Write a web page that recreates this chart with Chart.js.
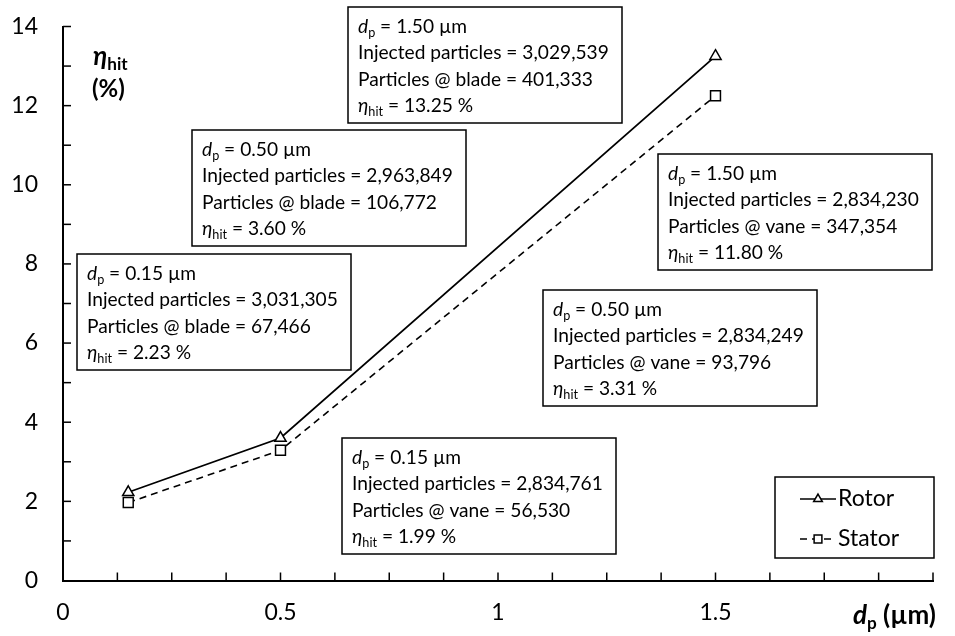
<!DOCTYPE html>
<html>
<head>
<meta charset="utf-8">
<script src="https://cdn.jsdelivr.net/npm/chart.js@4.4.1/dist/chart.umd.min.js"></script>
<style>
  html, body { margin: 0; padding: 0; background: #fff; }
</style>
</head>
<body>
<canvas id="hitChart" width="955" height="636"></canvas>
<script>
// particle diameters (um)
const sizes = [0.15, 0.5, 1.5];
// plotted hit efficiency (%)
const rotorHit = [2.23, 3.60, 13.25];
const statorHit = [1.97, 3.29, 12.25];

// numbers written in the boxes
const sizeText = ['0.15', '0.50', '1.50'];
const rotorInjected = ['3,031,305', '2,963,849', '3,029,539'];
const rotorAtBlade = ['67,466', '106,772', '401,333'];
const rotorHitText = ['2.23', '3.60', '13.25'];
const statorInjected = ['2,834,761', '2,834,249', '2,834,230'];
const statorAtVane = ['56,530', '93,796', '347,354'];
const statorHitText = ['1.99', '3.31', '11.80'];

const seriesNames = ['Rotor', 'Stator'];
const xTickLabels = ['0', '0.5', '1', '1.5'];
const yTickStep = 2;

const FONT = 'Lato, "Open Sans", sans-serif';

// box positions (left, top) in px
const rotorBoxPos = [[77, 254], [192, 130], [348, 7]];
const statorBoxPos = [[342, 438], [543, 290], [658, 154]];

function boxLines(d, inj, label, at, hit) {
  return [
    [{ t: 'd', i: true }, { t: 'p', sub: true }, { t: ' = ' + d + ' µm' }],
    [{ t: 'Injected particles = ' + inj }],
    [{ t: 'Particles @ ' + label + ' = ' + at }],
    [{ t: 'η', i: true }, { t: 'hit', sub: true }, { t: ' = ' + hit + ' %' }]
  ];
}

function drawRich(ctx, segs, x, y, size, weight, measureOnly) {
  let cx = x;
  for (const s of segs) {
    const fs = s.sub ? size * 0.66 : size;
    ctx.font = (s.i ? 'italic ' : '') + weight + ' ' + fs + 'px ' + FONT;
    if (!measureOnly) ctx.fillText(s.t, cx, y + (s.sub ? size * 0.3 : 0));
    cx += ctx.measureText(s.t).width;
  }
  return cx - x;
}

const decorations = {
  id: 'decorations',
  afterDatasetsDraw(chart) {
    const ctx = chart.ctx;
    const xs = chart.scales.x, ys = chart.scales.y;
    const area = chart.chartArea;
    ctx.save();
    ctx.strokeStyle = '#000';
    ctx.lineWidth = 1.5;
    // inward tick marks
    for (let v = 1; v <= 14; v++) {
      const py = ys.getPixelForValue(v);
      ctx.beginPath(); ctx.moveTo(area.left, py); ctx.lineTo(area.left + 8, py); ctx.stroke();
    }
    for (let k = 1; k <= 16; k++) {
      const px = xs.getPixelForValue(k * 0.125);
      ctx.beginPath(); ctx.moveTo(px, area.bottom); ctx.lineTo(px, area.bottom - 8); ctx.stroke();
    }

    // text boxes
    ctx.fillStyle = '#000';
    ctx.textBaseline = 'middle';
    ctx.textAlign = 'left';
    const boxes = [];
    sizes.forEach((s, i) => {
      boxes.push({ pos: rotorBoxPos[i], lines: boxLines(sizeText[i], rotorInjected[i], 'blade', rotorAtBlade[i], rotorHitText[i]) });
      boxes.push({ pos: statorBoxPos[i], lines: boxLines(sizeText[i], statorInjected[i], 'vane', statorAtVane[i], statorHitText[i]) });
    });
    // fit font so the widest line is ~251px like the original
    const ref = drawRich(ctx, [{ t: 'Injected particles = 3,029,539' }], 0, 0, 100, 'normal', true);
    const fs = 100 * 251 / ref;
    for (const b of boxes) {
      const [l, t] = b.pos;
      let w = 0;
      b.lines.forEach(ln => { w = Math.max(w, drawRich(ctx, ln, 0, 0, fs, 'normal', true)); });
      const bw = Math.max(274, w + 23);
      ctx.fillStyle = '#fff';
      ctx.fillRect(l, t, bw, 116);
      ctx.strokeRect(l, t, bw, 116);
      ctx.fillStyle = '#000';
      b.lines.forEach((ln, j) => drawRich(ctx, ln, l + 10, t + 20 + j * 26.3, fs, 'normal', false));
    }

    // legend
    const lg = { l: 775, t: 477, w: 159, h: 81 };
    ctx.fillStyle = '#fff';
    ctx.fillRect(lg.l, lg.t, lg.w, lg.h);
    ctx.strokeRect(lg.l, lg.t, lg.w, lg.h);
    chart.data.datasets.forEach((ds, i) => {
      const y = lg.t + 22 + i * 40;
      ctx.save();
      ctx.strokeStyle = '#000';
      ctx.lineWidth = 1.5;
      ctx.setLineDash(ds.borderDash || []);
      ctx.beginPath(); ctx.moveTo(800, y); ctx.lineTo(836, y); ctx.stroke();
      ctx.setLineDash([]);
      ctx.fillStyle = '#fff';
      Chart.helpers.drawPoint(ctx, { pointStyle: ds.pointStyle, radius: ds.pointStyle === 'triangle' ? 5 : 5.5, rotation: 0, borderWidth: 1.5 }, 818, y);
      ctx.restore();
      ctx.fillStyle = '#000';
      ctx.font = '23px ' + FONT;
      ctx.fillText(ds.label, 838, y);
    });

    // axis titles
    drawRich(ctx, [{ t: 'η', i: true }, { t: 'hit', sub: true }], 93, 57, 26, 'bold', false);
    ctx.font = 'bold 24px ' + FONT;
    ctx.fillText('(%)', 92, 89);
    drawRich(ctx, [{ t: 'd', i: true }, { t: 'p', sub: true }, { t: ' (µm)' }], 853, 616, 26, 'bold', false);
    ctx.restore();
  }
};

const ctx = document.getElementById('hitChart').getContext('2d');
new Chart(ctx, {
  type: 'scatter',
  data: {
    datasets: [{
      label: seriesNames[0],
      data: sizes.map((s, i) => ({ x: s, y: rotorHit[i] })),
      showLine: true,
      borderColor: '#000',
      borderWidth: 1.8,
      pointStyle: 'triangle',
      pointRadius: 6.5,
      pointBorderWidth: 1.5,
      pointBackgroundColor: '#fff',
      pointBorderColor: '#000'
    }, {
      label: seriesNames[1],
      data: sizes.map((s, i) => ({ x: s, y: statorHit[i] })),
      showLine: true,
      borderColor: '#000',
      borderWidth: 1.6,
      borderDash: [7, 5],
      pointStyle: 'rect',
      pointRadius: 7,
      pointBorderWidth: 1.5,
      pointBackgroundColor: '#fff',
      pointBorderColor: '#000'
    }]
  },
  options: {
    responsive: false,
    animation: false,
    devicePixelRatio: 1,
    layout: { padding: { top: 26.5, right: 22, left: 0, bottom: 0 } },
    plugins: { legend: { display: false }, tooltip: { enabled: false } },
    scales: {
      x: {
        type: 'linear',
        min: 0,
        max: 2,
        afterFit: s => { s.height = 55.5; s.paddingLeft = 0; s.paddingRight = 0; },
        grid: { display: false, drawTicks: false },
        border: { display: true, color: '#000', width: 2 },
        ticks: {
          stepSize: 0.5,
          padding: 18,
          color: '#000',
          font: { family: FONT, size: 23 },
          callback: v => xTickLabels[Math.round(v / 0.5)] ?? ''
        }
      },
      y: {
        min: 0,
        max: 14,
        afterFit: s => { s.width = 63; s.paddingTop = 0; s.paddingBottom = 0; },
        grid: { display: false, drawTicks: false },
        border: { display: true, color: '#000', width: 2 },
        ticks: {
          stepSize: yTickStep,
          padding: 25,
          color: '#000',
          font: { family: FONT, size: 23 }
        }
      }
    }
  },
  plugins: [decorations]
});
</script>
</body>
</html>
